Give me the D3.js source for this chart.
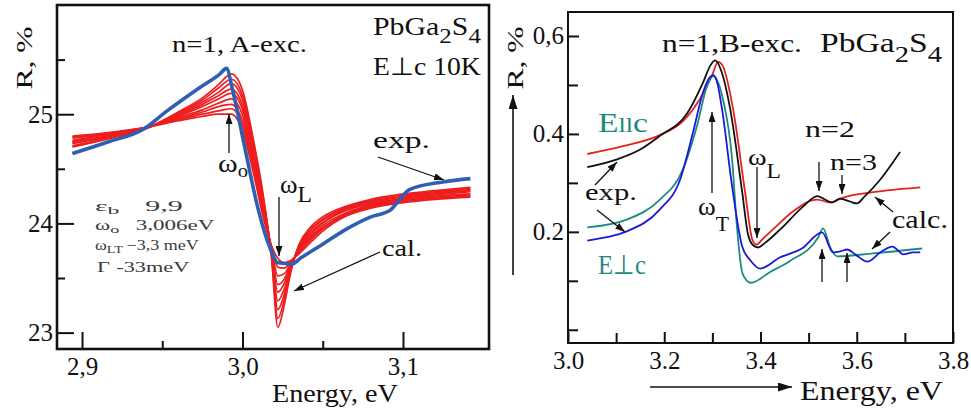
<!DOCTYPE html>
<meta charset="utf-8">
<head>
  <title>PbGa2S4 exciton reflectance</title>
</head>

<style>
body { margin: 0; background: #fff; }
text { font-family: "Liberation Serif", "Times New Roman", serif; }
.frame { fill: none; stroke: #111; }
.tick line { stroke: #111; }
</style>

<body>
  <svg id="chart" width="971" height="412"></svg>

  <script src="https://cdn.jsdelivr.net/npm/d3@7"></script>

  <script>
// ---- left panel: A exciton, E perp c, 10K ----
var leftXTicks = [2.9, 3.0, 3.1]
var leftXMinor = [2.95, 3.05]
var leftYTicks = [23, 24, 25]
var leftYMinor = [23.5, 24.5, 25.5]

// energies shared by the family of calculated curves
var leftCalcE = [2.894, 2.915, 2.94, 2.96, 2.975, 2.985, 2.993, 3.0, 3.007, 3.013, 3.018,
  3.022, 3.026, 3.03, 3.035, 3.042, 3.05, 3.065, 3.08, 3.1, 3.12, 3.142]
// calculated R, % (one row per curve, sharp -> broad)
var leftCalcR = [
  [24.70, 24.77, 24.87, 25.02, 25.15, 25.27, 25.37, 25.22, 24.75, 24.25, 23.70, 23.05, 23.25, 23.55, 23.80, 23.96, 24.06, 24.16, 24.22, 24.27, 24.30, 24.33],
  [24.71, 24.78, 24.87, 25.01, 25.13, 25.24, 25.32, 25.17, 24.71, 24.23, 23.71, 23.13, 23.30, 23.56, 23.79, 23.94, 24.04, 24.15, 24.21, 24.26, 24.29, 24.32],
  [24.73, 24.79, 24.87, 25.00, 25.11, 25.20, 25.28, 25.13, 24.68, 24.20, 23.73, 23.21, 23.35, 23.58, 23.78, 23.93, 24.03, 24.14, 24.20, 24.25, 24.28, 24.31],
  [24.74, 24.79, 24.87, 24.99, 25.09, 25.17, 25.23, 25.08, 24.64, 24.18, 23.74, 23.29, 23.40, 23.59, 23.77, 23.91, 24.01, 24.13, 24.19, 24.24, 24.27, 24.30],
  [24.75, 24.80, 24.88, 24.98, 25.07, 25.14, 25.19, 25.04, 24.60, 24.15, 23.75, 23.37, 23.45, 23.61, 23.76, 23.89, 24.00, 24.12, 24.18, 24.23, 24.26, 24.29],
  [24.76, 24.81, 24.88, 24.97, 25.04, 25.10, 25.14, 24.99, 24.56, 24.13, 23.76, 23.44, 23.49, 23.62, 23.75, 23.87, 23.98, 24.10, 24.17, 24.22, 24.25, 24.27],
  [24.78, 24.82, 24.88, 24.96, 25.02, 25.07, 25.09, 24.94, 24.53, 24.10, 23.78, 23.52, 23.54, 23.63, 23.74, 23.86, 23.96, 24.09, 24.16, 24.21, 24.24, 24.26],
  [24.79, 24.82, 24.88, 24.95, 25.00, 25.03, 25.05, 24.90, 24.49, 24.08, 23.79, 23.60, 23.59, 23.65, 23.73, 23.84, 23.95, 24.08, 24.15, 24.20, 24.23, 24.25],
  [24.80, 24.83, 24.88, 24.94, 24.98, 25.00, 25.00, 24.85, 24.45, 24.05, 23.80, 23.68, 23.64, 23.66, 23.72, 23.82, 23.93, 24.07, 24.14, 24.19, 24.22, 24.24]
]
// experiment [E, R %]
var leftExp = [[2.894, 24.64], [2.917, 24.75], [2.938, 24.86], [2.953, 25.03], [2.973, 25.24],
  [2.986, 25.37], [2.990, 25.42], [2.994, 25.21], [3.0015, 24.69], [3.0096, 24.14],
  [3.017, 23.78], [3.022, 23.64], [3.031, 23.63], [3.036, 23.68], [3.05, 23.81],
  [3.065, 23.95], [3.08, 24.06], [3.092, 24.12], [3.098, 24.22], [3.104, 24.31],
  [3.125, 24.38], [3.142, 24.41]]

// ---- right panel: B exciton ----
var rightXTicks = [3.0, 3.2, 3.4, 3.6, 3.8]
var rightXMinor = [3.1, 3.3, 3.5, 3.7]
var rightYTicks = [0.2, 0.4, 0.6]
var rightYLabels = ["0.2", "0.4", "0,6"]
var rightYMinor = [0.0, 0.1, 0.3, 0.5]

var calcPar = [[3.040, 0.359], [3.114, 0.375], [3.187, 0.396], [3.239, 0.426], [3.274, 0.471],
  [3.299, 0.519], [3.312, 0.547], [3.322, 0.538], [3.343, 0.451], [3.368, 0.281],
  [3.383, 0.184], [3.391, 0.174], [3.405, 0.186], [3.426, 0.205], [3.468, 0.242],
  [3.518, 0.266], [3.545, 0.260], [3.572, 0.270], [3.634, 0.281], [3.732, 0.291]]
var expPar = [[3.040, 0.332], [3.102, 0.348], [3.150, 0.368], [3.191, 0.396], [3.247, 0.441],
  [3.281, 0.506], [3.296, 0.540], [3.306, 0.550], [3.318, 0.530], [3.337, 0.451],
  [3.362, 0.281], [3.374, 0.195], [3.385, 0.172], [3.395, 0.168], [3.41, 0.178],
  [3.441, 0.205], [3.489, 0.252], [3.518, 0.273], [3.534, 0.266], [3.549, 0.260],
  [3.565, 0.268], [3.586, 0.262], [3.600, 0.258], [3.617, 0.273], [3.649, 0.307], [3.690, 0.363]]
var calcPerp = [[3.040, 0.209], [3.122, 0.225], [3.191, 0.266], [3.239, 0.328], [3.268, 0.416],
  [3.289, 0.498], [3.302, 0.518], [3.312, 0.505], [3.322, 0.471], [3.341, 0.348],
  [3.351, 0.211], [3.362, 0.117], [3.372, 0.100], [3.380, 0.096], [3.420, 0.118],
  [3.462, 0.141], [3.520, 0.189], [3.530, 0.207], [3.545, 0.168], [3.559, 0.150],
  [3.634, 0.156], [3.736, 0.166]]
var expPerp = [[3.040, 0.182], [3.080, 0.189], [3.122, 0.201], [3.191, 0.246], [3.233, 0.307],
  [3.260, 0.404], [3.281, 0.486], [3.295, 0.516], [3.302, 0.520], [3.310, 0.505],
  [3.320, 0.451], [3.341, 0.293], [3.362, 0.170], [3.378, 0.143], [3.399, 0.125],
  [3.441, 0.148], [3.486, 0.166], [3.528, 0.199], [3.551, 0.158], [3.566, 0.160],
  [3.580, 0.164], [3.597, 0.154], [3.622, 0.139], [3.649, 0.158], [3.674, 0.170],
  [3.697, 0.154], [3.717, 0.158], [3.732, 0.158]]

var serif = '"Liberation Serif", "Times New Roman", serif'
var svg = d3.select('#chart')
svg.append('rect').attr('width', 971).attr('height', 412).attr('fill', '#fff')

var defs = svg.append('defs')
function marker(id, w, h) {
  defs.append('marker').attr('id', id)
    .attr('markerUnits', 'userSpaceOnUse')
    .attr('markerWidth', w).attr('markerHeight', h)
    .attr('refX', w).attr('refY', h / 2).attr('orient', 'auto')
    .append('path').attr('d', 'M0,0L' + w + ',' + h / 2 + 'L0,' + h + 'Z').attr('fill', '#111')
}
marker('head', 10, 7)
marker('bighead', 14, 9)

function arrow(x1, y1, x2, y2, big) {
  svg.append('line')
    .attr('x1', x1).attr('y1', y1).attr('x2', x2).attr('y2', y2)
    .attr('stroke', '#111').attr('stroke-width', big ? 1.6 : 1.3)
    .attr('marker-end', big ? 'url(#bighead)' : 'url(#head)')
}

// text with optional subscripts / gaps, stretched to a target width
function put(x, y, parts, o) {
  var t = svg.append('text').attr('font-size', o.size).attr('fill', o.color || '#111')
    .style('font-family', serif)
  var shift = 0
  parts.forEach(function(p) {
    var s = typeof p === 'string' ? {s: p} : p
    var target = s.sub || 0
    var sp = t.append('tspan').attr('dy', target - shift).text(s.s)
    if (s.fs) sp.attr('font-size', s.fs)
    if (s.dx) sp.attr('dx', s.dx)
    shift = target
  })
  var k = 1
  if (o.width) k = o.width / t.node().getComputedTextLength()
  if (o.anchor) t.attr('text-anchor', o.anchor)
  t.attr('transform', 'translate(' + x + ',' + y + ')' + (o.rot ? ' rotate(' + o.rot + ')' : '') + ' scale(' + k + ',1)')
  return t
}

function drawAxes(x, y, xt, xm, yt, ym, xfmt, yfmt, sw, big, small, fs, xpad) {
  var x0 = x.range()[0], x1 = x.range()[1], y0 = y.range()[0], y1 = y.range()[1]
  var gx = svg.append('g').attr('transform', 'translate(0,' + y0 + ')')
    .call(d3.axisBottom(x).tickValues(xt).tickSize(-big).tickPadding(xpad).tickFormat(xfmt))
  svg.append('g').attr('transform', 'translate(0,' + y0 + ')')
    .call(d3.axisBottom(x).tickValues(xm).tickSize(-small).tickFormat(''))
  var gy = svg.append('g').attr('transform', 'translate(' + x0 + ',0)')
    .call(d3.axisLeft(y).tickValues(yt).tickSize(-big).tickPadding(4).tickFormat(yfmt))
  svg.append('g').attr('transform', 'translate(' + x0 + ',0)')
    .call(d3.axisLeft(y).tickValues(ym).tickSize(-small).tickFormat(''))
  svg.selectAll('.domain').remove()
  svg.selectAll('.tick line').attr('stroke-width', sw)
  gx.selectAll('text').attr('font-size', fs).attr('fill', '#111').style('font-family', serif)
  gy.selectAll('text').attr('font-size', fs).attr('fill', '#111').style('font-family', serif)
  svg.append('rect').attr('class', 'frame')
    .attr('x', x0).attr('y', y1).attr('width', x1 - x0).attr('height', y0 - y1)
    .attr('stroke-width', sw)
}

// ---------- left ----------
var xL = d3.scaleLinear([2.8844, 3.1536], [57, 489])
var yL = d3.scaleLinear([22.85, 26.0], [349, 5])
var commaFmt = function(d) { return d3.format('.1f')(d).replace('.', ',') }
drawAxes(xL, yL, leftXTicks, leftXMinor, leftYTicks, leftYMinor, commaFmt, d3.format('d'), 2.6, 17, 8, 25, 8)

var lineL = d3.line().x(function(d) { return xL(d[0]) }).y(function(d) { return yL(d[1]) })
  .curve(d3.curveMonotoneX)
svg.append('g').selectAll('path')
  .data(leftCalcR)
  .enter().append('path')
  .attr('d', function(r) { return lineL(r.map(function(v, i) { return [leftCalcE[i], v] })) })
  .attr('fill', 'none').attr('stroke', '#ee1d1d').attr('stroke-width', 1.7)
svg.append('path').datum(leftExp).attr('d', lineL)
  .attr('fill', 'none').attr('stroke', '#2f5fb5').attr('stroke-width', 3.6)

put(32, 58, ['R, %'], {size: 24, width: 63, rot: -90, anchor: 'middle'})
put(272, 402, ['Energy, eV'], {size: 26, width: 126})
put(172, 52, ['n=1, A-exc.'], {size: 23, width: 135})
put(373, 35, ['PbGa', {s: '2', sub: 8, fs: 21}, 'S', {s: '4', sub: 8, fs: 21}], {size: 25, width: 108})
put(373, 75, ['E⊥c  10K'], {size: 25, width: 108})
put(218, 172, ['ω', {s: 'o', sub: 5, fs: 18}], {size: 26, width: 30})
put(280, 193, ['ω', {s: 'L', sub: 9, fs: 23}], {size: 26, width: 32})
put(373, 148, ['exp.'], {size: 24, width: 57})
put(382, 256, ['cal.'], {size: 24, width: 40})
// fit parameters
var pc = '#3a3a3a'
put(95, 211, ['ε', {s: 'b', sub: 3, fs: 11}, {s: '9,9', sub: 0, dx: 12}], {size: 14, width: 62, color: pc})
put(95, 230, ['ω', {s: 'o', sub: 3, fs: 11}, {s: '3,006eV', sub: 0, dx: 10}], {size: 14, width: 103, color: pc})
put(95, 250, ['ω', {s: 'LT', sub: 3, fs: 11}, {s: '−3,3 meV', sub: 0, dx: 3}], {size: 14, width: 100, color: pc})
put(97, 272, ['Γ', {s: '-33meV', dx: 4}], {size: 14, width: 86, color: pc})

arrow(229, 153, 229, 114)
arrow(279, 197, 279, 256)
arrow(378, 157, 444, 180)
arrow(380, 252, 294, 291)

// ---------- right ----------
var xR = d3.scaleLinear([3.0, 3.8], [568, 953])
var yR = d3.scaleLinear([-0.027, 0.649], [343, 12])
drawAxes(xR, yR, rightXTicks, rightXMinor, rightYTicks, rightYMinor, d3.format('.1f'),
  function(d, i) { return rightYLabels[i] }, 2, 11, 10, 25, 8)

var lineR = d3.line().x(function(d) { return xR(d[0]) }).y(function(d) { return yR(d[1]) })
  .curve(d3.curveMonotoneX)
var rightSeries = [
  {data: calcPar, color: '#e5211f'},
  {data: expPar, color: '#111'},
  {data: calcPerp, color: '#1d8c7f'},
  {data: expPerp, color: '#1a1ad6'}
]
svg.append('g').selectAll('path')
  .data(rightSeries)
  .enter().append('path')
  .attr('d', function(s) { return lineR(s.data) })
  .attr('fill', 'none').attr('stroke', function(s) { return s.color }).attr('stroke-width', 1.8)

put(523, 58, ['R, %'], {size: 24, width: 63, rot: -90, anchor: 'middle'})
arrow(513, 275, 513, 95, true)
put(800, 400, ['Energy, eV'], {size: 27, width: 143})
arrow(650, 387, 792, 387, true)
put(662, 52, ['n=1,B-exc.'], {size: 26, width: 140})
put(820, 52, ['PbGa', {s: '2', sub: 10, fs: 23}, 'S', {s: '4', sub: 10, fs: 23}], {size: 27, width: 122})
var teal = '#1e8a7d'
put(598, 132, ['E', {s: 'll', fs: 21}, 'c'], {size: 27, width: 50, color: teal})
put(598, 274, ['E⊥c'], {size: 27, width: 48, color: teal})
put(585, 200, ['exp.'], {size: 24, width: 52})
put(698, 215, ['ω', {s: 'T', sub: 16, fs: 21}], {size: 26, width: 31})
put(748, 165, ['ω', {s: 'L', sub: 13, fs: 20}], {size: 24, width: 33})
put(805, 137, ['n=2'], {size: 24, width: 50})
put(830, 170, ['n=3'], {size: 24, width: 47})
put(892, 228, ['calc.'], {size: 26, width: 56})

arrow(712, 193, 712, 112)
arrow(757, 167, 757, 238)
arrow(819, 162, 819, 191)
arrow(842, 175, 842, 194)
arrow(822, 282, 822, 249)
arrow(847, 282, 847, 253)
arrow(595, 185, 617, 162)
arrow(597, 210, 625, 232)
arrow(893, 212, 875, 197)
arrow(890, 232, 872, 249)
  </script>
</body>
</html>
